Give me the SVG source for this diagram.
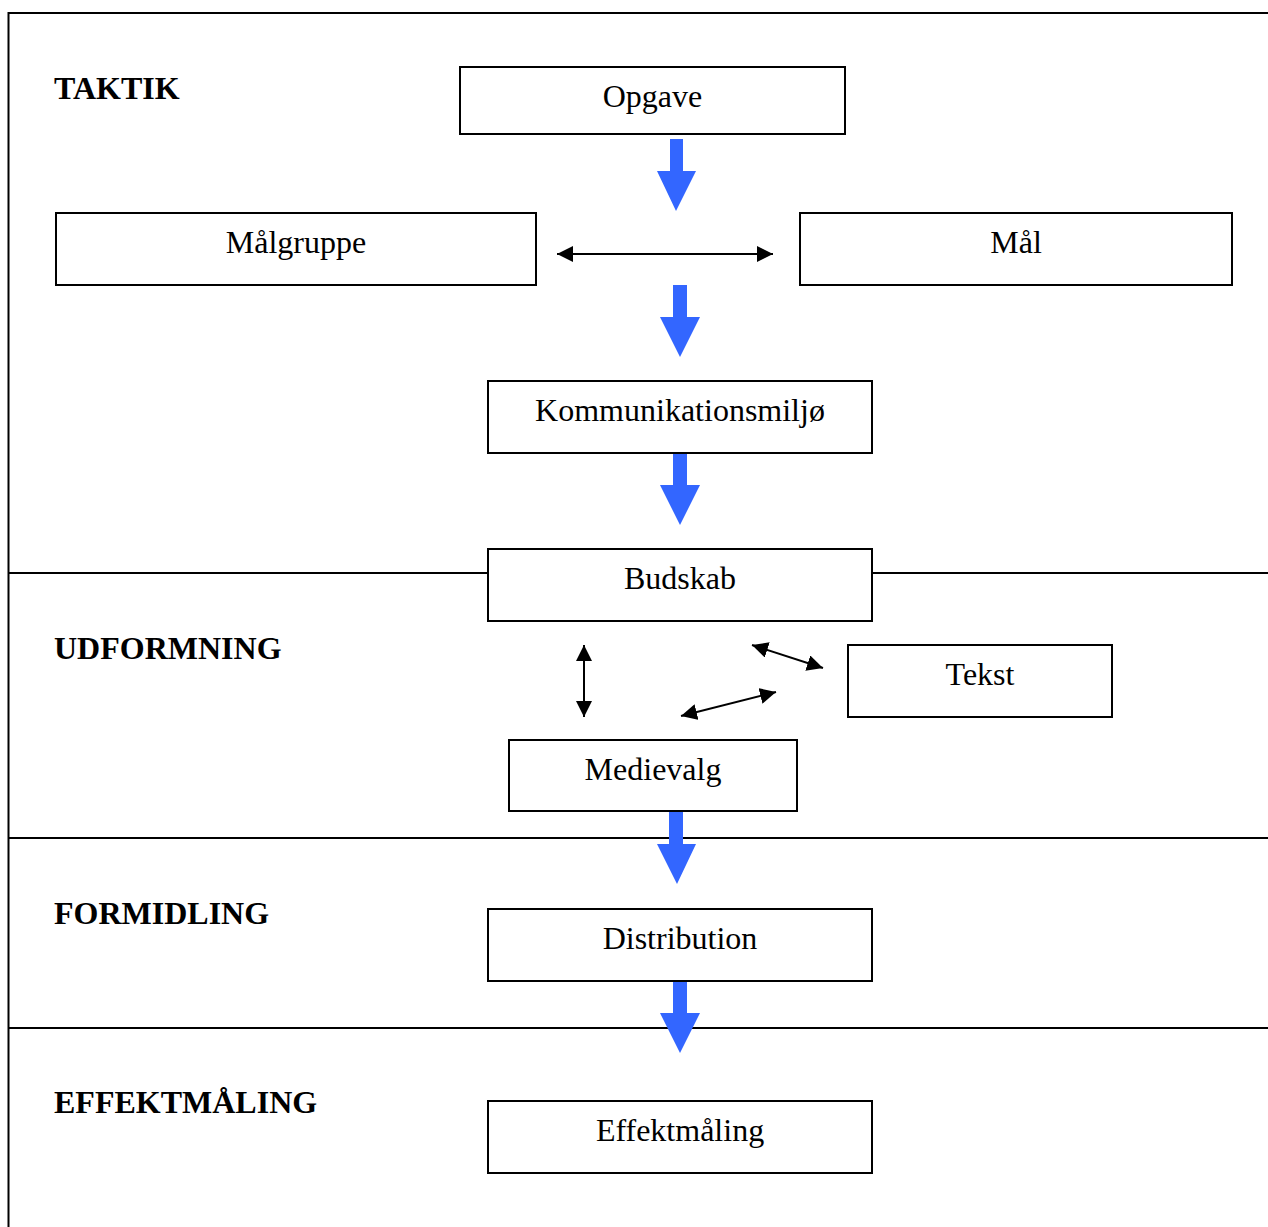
<svg xmlns="http://www.w3.org/2000/svg" width="1268" height="1227" viewBox="0 0 1268 1227">
<style>
.box{fill:#fff;stroke:#000;stroke-width:2}
.frame{fill:none;stroke:#000;stroke-width:2}
.lbl{font-family:"Liberation Serif","Times New Roman",serif;font-size:32px;fill:#000;text-anchor:middle}
.sec{font-family:"Liberation Serif","Times New Roman",serif;font-size:32px;font-weight:bold;fill:#000}
.blue{fill:#3366FF}
.dbl{stroke:#000;stroke-width:2;fill:none;marker-start:url(#ah);marker-end:url(#ah)}
</style>
<defs>
<marker id="ah" viewBox="0 0 10 10" refX="10" refY="5" markerWidth="8" markerHeight="8" markerUnits="strokeWidth" orient="auto-start-reverse">
<path d="M0,0 L10,5 L0,10 Z" fill="#000"/>
</marker>
</defs>
<rect width="1268" height="1227" fill="#fff"/>
<g id="frame">
<path class="frame" d="M1268,13 H8.5 V1227"/>
<line class="frame" x1="8" y1="573" x2="1268" y2="573"/>
<line class="frame" x1="8" y1="838" x2="1268" y2="838"/>
<line class="frame" x1="8" y1="1028" x2="1268" y2="1028"/>
</g>
<g id="sections">
<text class="sec" x="54" y="99">TAKTIK</text>
<text class="sec" x="54" y="659">UDFORMNING</text>
<text class="sec" x="54" y="924">FORMIDLING</text>
<text class="sec" x="54" y="1113">EFFEKTMÅLING</text>
</g>
<g id="connectors">
<polygon class="blue" points="670,139 683,139 683,171 696,171 676,211 657,171 670,171"/>
<polygon class="blue" points="673,285 687,285 687,317 700,317 680,357 660,317 673,317"/>
<polygon class="blue" points="673,453 687,453 687,485 700,485 680,525 660,485 673,485"/>
<polygon class="blue" points="669,811 683,811 683,844 696,844 677,884 657,844 669,844"/>
<polygon class="blue" points="673,981 687,981 687,1013 700,1013 680,1053 660,1013 673,1013"/>
<line class="dbl" x1="557" y1="254" x2="773" y2="254"/>
<line class="dbl" x1="584" y1="645" x2="584" y2="717"/>
<line class="dbl" x1="752" y1="645" x2="823" y2="668"/>
<line class="dbl" x1="681" y1="716" x2="776" y2="692"/>
</g>
<g id="opgave"><rect class="box" x="460" y="67" width="385" height="67"/><text class="lbl" x="652.5" y="107">Opgave</text></g>
<g id="malgruppe"><rect class="box" x="56" y="213" width="480" height="72"/><text class="lbl" x="296" y="253">Målgruppe</text></g>
<g id="mal"><rect class="box" x="800" y="213" width="432" height="72"/><text class="lbl" x="1016" y="253">Mål</text></g>
<g id="kommunikationsmiljo"><rect class="box" x="488" y="381" width="384" height="72"/><text class="lbl" x="680" y="421">Kommunikationsmiljø</text></g>
<g id="budskab"><rect class="box" x="488" y="549" width="384" height="72"/><text class="lbl" x="680" y="589">Budskab</text></g>
<g id="tekst"><rect class="box" x="848" y="645" width="264" height="72"/><text class="lbl" x="980" y="685">Tekst</text></g>
<g id="medievalg"><rect class="box" x="509" y="740" width="288" height="71"/><text class="lbl" x="653" y="780">Medievalg</text></g>
<g id="distribution"><rect class="box" x="488" y="909" width="384" height="72"/><text class="lbl" x="680" y="949">Distribution</text></g>
<g id="effektmaling"><rect class="box" x="488" y="1101" width="384" height="72"/><text class="lbl" x="680" y="1141">Effektmåling</text></g>
</svg>
